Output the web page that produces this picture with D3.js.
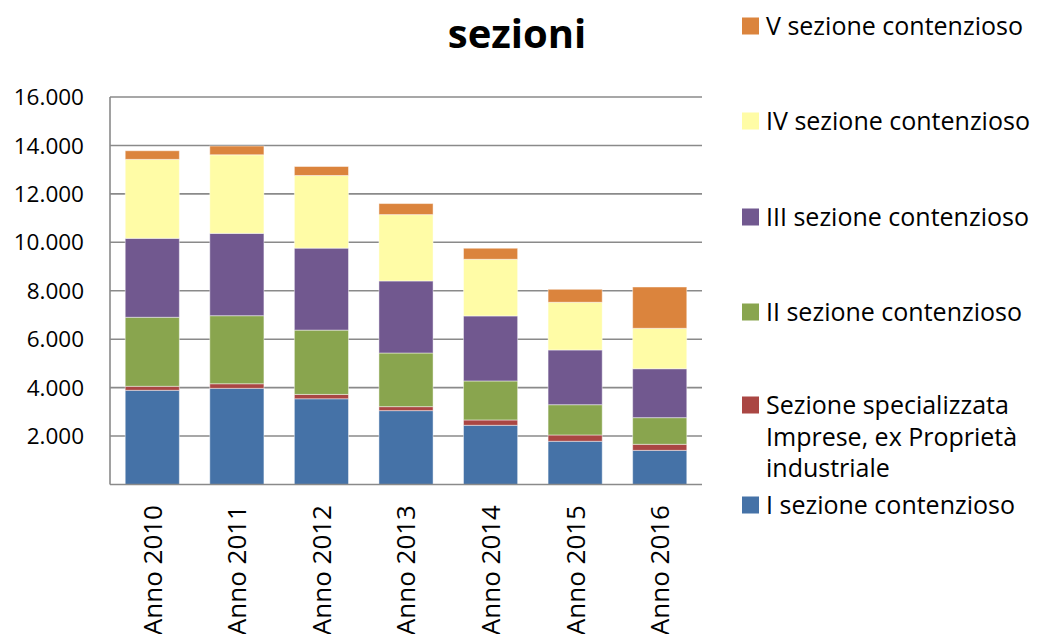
<!DOCTYPE html>
<html>
<head>
<meta charset="utf-8">
<script src="https://cdn.jsdelivr.net/npm/d3@7"></script>
<style>
  body { margin: 0; background: #fff; }
  text { font-family: "Open Sans", "Noto Sans", sans-serif; fill: #000; }
</style>
</head>
<body>
<div id="d3-container"></div>
<script>
const years = ["Anno 2010", "Anno 2011", "Anno 2012", "Anno 2013", "Anno 2014", "Anno 2015", "Anno 2016"];
const seriesNames = ["I sezione contenzioso", "Sezione specializzata Imprese, ex Proprietà industriale",
  "II sezione contenzioso", "III sezione contenzioso", "IV sezione contenzioso", "V sezione contenzioso"];
const sez1 = [3890, 3970, 3540, 3050, 2445, 1785, 1410];
const sezSpec = [165, 190, 180, 165, 220, 260, 250];
const sez2 = [2850, 2810, 2655, 2215, 1610, 1250, 1100];
const sez3 = [3260, 3400, 3385, 2975, 2685, 2260, 2020];
const sez4 = [3260, 3245, 3000, 2740, 2340, 1970, 1670];
const sez5 = [355, 360, 370, 455, 455, 535, 1705];
const colors = ["#4572A7", "#AA4643", "#89A54E", "#71588F", "#FFFCA6", "#DB843D"];
const yTicks = [2000, 4000, 6000, 8000, 10000, 12000, 14000, 16000];

const allSeries = [sez1, sezSpec, sez2, sez3, sez4, sez5];
const data = years.map((y, i) => {
  const row = { year: y };
  seriesNames.forEach((s, k) => row[s] = allSeries[k][i]);
  return row;
});

const W = 1040, H = 634;
const plotL = 110, plotR = 702, plotT = 97, plotB = 484.5;

const svg = d3.select("#d3-container")
  .append("svg")
  .attr("width", W)
  .attr("height", H);

const xScale = d3.scaleBand()
  .domain(years)
  .range([plotL, plotR])
  .paddingInner(0.36)
  .paddingOuter(0.18);

const yScale = d3.scaleLinear()
  .domain([0, 16000])
  .range([plotB, plotT]);

// gridlines
svg.append("g")
  .selectAll("line")
  .data(yTicks)
  .join("line")
  .attr("x1", plotL)
  .attr("x2", plotR)
  .attr("y1", d => yScale(d))
  .attr("y2", d => yScale(d))
  .attr("stroke", "#8a8a8a")
  .attr("stroke-width", 1.6);

// stacked bars
const stack = d3.stack().keys(seriesNames);
const layers = stack(data);

svg.append("g")
  .selectAll("g")
  .data(layers)
  .join("g")
  .attr("fill", (d, i) => colors[i])
  .selectAll("rect")
  .data(d => d)
  .join("rect")
  .attr("x", d => xScale(d.data.year))
  .attr("y", d => yScale(d[1]))
  .attr("width", xScale.bandwidth())
  .attr("height", d => yScale(d[0]) - yScale(d[1]))
  .attr("stroke", "rgba(255,255,255,0.45)")
  .attr("stroke-width", 1);

// axes lines
svg.append("line")
  .attr("x1", plotL).attr("x2", plotL)
  .attr("y1", plotT).attr("y2", plotB)
  .attr("stroke", "#8a8a8a").attr("stroke-width", 1.6);
svg.append("line")
  .attr("x1", plotL).attr("x2", plotR)
  .attr("y1", plotB).attr("y2", plotB)
  .attr("stroke", "#8a8a8a").attr("stroke-width", 1.6);

// y tick labels
const fmt = d3.formatLocale({ decimal: ",", thousands: ".", grouping: [3], currency: ["", ""] }).format(",d");
svg.append("g")
  .selectAll("text")
  .data(yTicks)
  .join("text")
  .attr("x", 84)
  .attr("y", d => yScale(d))
  .attr("dy", "0.36em")
  .attr("text-anchor", "end")
  .attr("font-size", 22.5)
  .text(d => fmt(d));

// x labels (rotated)
svg.append("g")
  .selectAll("text")
  .data(years)
  .join("text")
  .attr("transform", d => "translate(" + (xScale(d) + xScale.bandwidth() / 2) + ",505) rotate(-90)")
  .attr("dy", "0.36em")
  .attr("text-anchor", "end")
  .attr("font-size", 26)
  .text(d => d);

// title
svg.append("text")
  .attr("x", 517)
  .attr("y", 48)
  .attr("text-anchor", "middle")
  .attr("font-size", 40)
  .attr("font-weight", "bold")
  .text("sezioni");

// legend (top to bottom: V ... I)
const legendItems = [
  { i: 5, y: 26, lines: ["V sezione contenzioso"] },
  { i: 4, y: 121, lines: ["IV sezione contenzioso"] },
  { i: 3, y: 217, lines: ["III sezione contenzioso"] },
  { i: 2, y: 312, lines: ["II sezione contenzioso"] },
  { i: 1, y: 405, lines: ["Sezione specializzata", "Imprese, ex Proprietà", "industriale"] },
  { i: 0, y: 505, lines: ["I sezione contenzioso"] }
];
const lg = svg.append("g").selectAll("g").data(legendItems).join("g");
lg.append("rect")
  .attr("x", 742)
  .attr("y", d => d.y - 8.5)
  .attr("width", 17)
  .attr("height", 17)
  .attr("fill", d => colors[d.i]);
lg.append("text")
  .attr("font-size", 25)
  .selectAll("tspan")
  .data(d => d.lines.map((t, k) => ({ t, y: d.y + k * 31.5 })))
  .join("tspan")
  .attr("x", 766)
  .attr("y", d => d.y)
  .attr("dy", "0.36em")
  .text(d => d.t);
</script>
</body>
</html>
